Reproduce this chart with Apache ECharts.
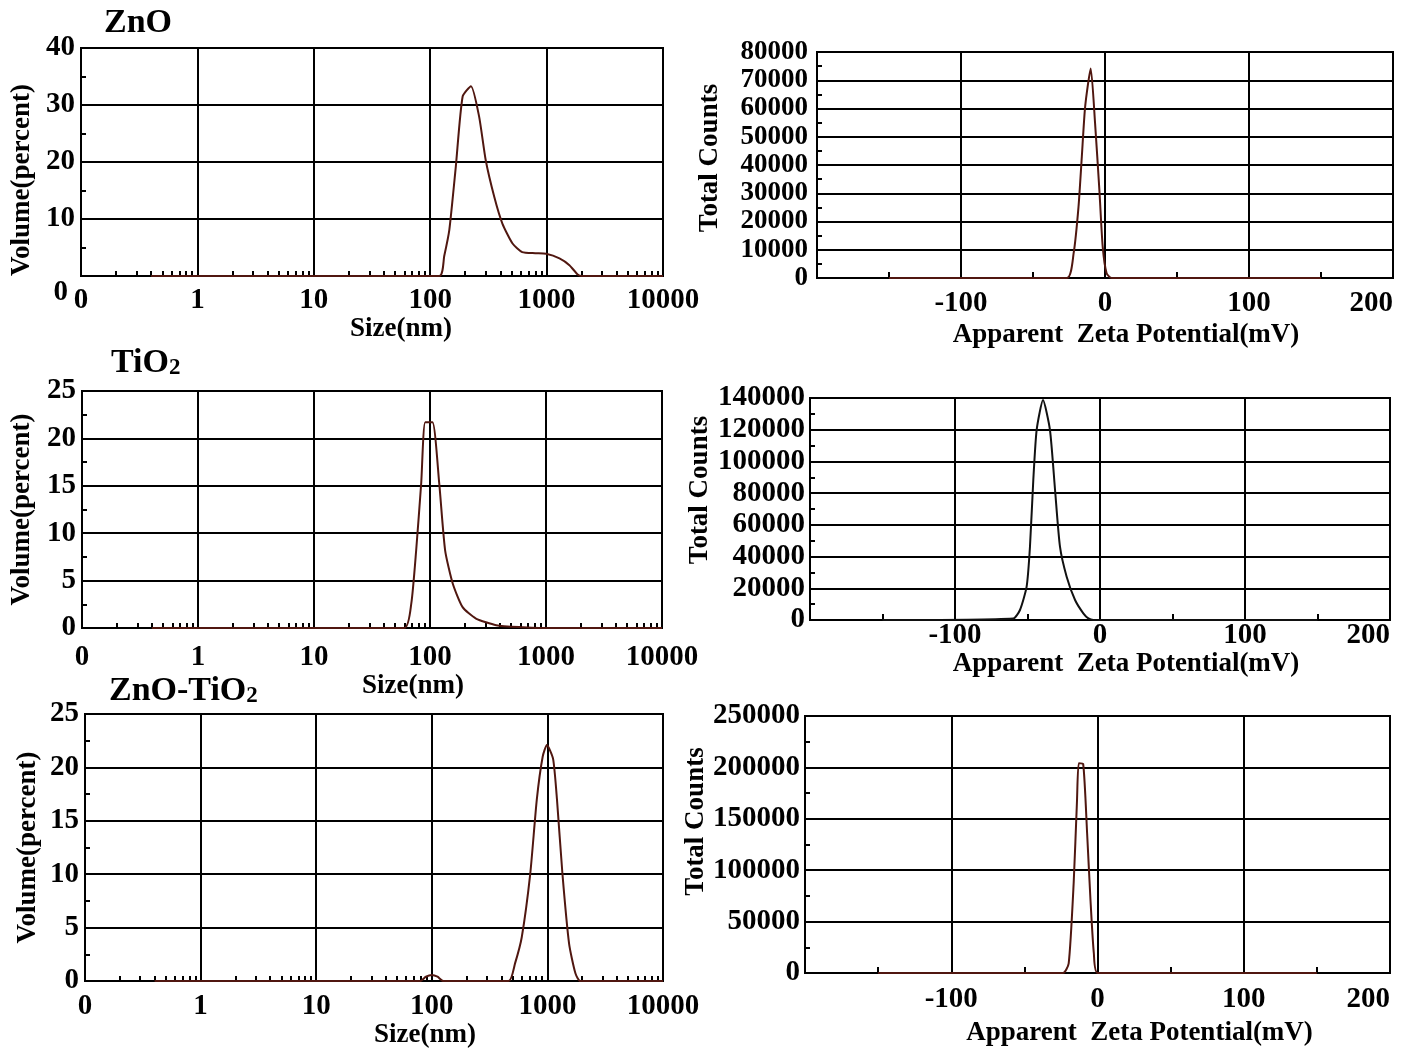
<!DOCTYPE html>
<html>
<head>
<meta charset="utf-8">
<script src="https://cdn.jsdelivr.net/npm/echarts@6/dist/echarts.min.js"></script>
<style>
  html, body { margin: 0; padding: 0; background: #fff; }
  #chart { width: 1404px; height: 1048px; }
</style>
</head>
<body>
<div id="chart"></div>
<script>
// size distributions (nm vs volume %)
const znoSizeNm = [0.4, 120, 132, 146, 166, 190, 224, 263, 300, 355, 417, 510, 617, 800, 990, 1290, 1570, 1860, 2000, 10000];
const znoVolume = [0, 0, 3.5, 8.1, 19.2, 31.5, 33.3, 28.0, 20.3, 13.9, 9.2, 5.7, 4.2, 4.0, 3.9, 3.1, 1.9, 0.2, 0, 0];

const tio2SizeNm = [0.4, 60, 69, 76, 84, 91, 105, 120, 135, 157, 191, 249, 372, 630, 870, 10000];
const tio2Volume = [0, 0, 2.6, 8.2, 15.3, 21.7, 21.7, 15.3, 8.2, 4.7, 2.2, 1.0, 0.3, 0.07, 0, 0];

const mixSizeNm = [0.4, 79, 89, 100, 112, 126, 462, 525, 600, 710, 810, 910, 990, 1120, 1210, 1350, 1540, 1750, 1930, 10000];
const mixVolume = [0, 0, 0.4, 0.56, 0.4, 0, 0, 1.65, 4.1, 10, 17, 21, 22.1, 20.8, 17, 10, 3.5, 0.7, 0, 0];

// zeta potential (mV vs total counts)
const znoZetaMv = [-150, -26.4, -21.8, -18.4, -16.1, -13.8, -9.9, -6.9, -3.9, -1.6, 1.1, 4.6, 150];
const znoCounts = [0, 0, 8700, 25200, 42900, 60600, 74200, 54800, 31100, 11100, 1700, 0, 0];

const tio2ZetaMv = [-150, -59.8, -55.2, -50.6, -48.3, -46, -43.7, -39.3, -34.5, -31, -27.6, -23, -17.2, -11.5, -8, -4.6, 150];
const tio2Counts = [0, 1000, 6300, 21000, 46200, 88300, 119800, 138700, 119800, 82000, 46200, 27300, 12600, 4200, 1000, 0, 0];

const mixZetaMv = [-150, -23.6, -19.7, -16.3, -14, -12.8, -9.8, -7.1, -4.8, -2.5, 0.2, 150];
const mixCounts = [0, 0, 9400, 87300, 168300, 204000, 203300, 135900, 71000, 19200, 0, 0];

const sizeDecades = [0.1, 1, 10, 100, 1000];
const minorSteps = [2, 3, 4, 5, 6, 7, 8, 9];

const font = "'Liberation Serif', 'Times New Roman', serif";
const ink = "#000";
const curveColor = "#501710";

const minorLogTicks = [];
sizeDecades.forEach((d) => minorSteps.forEach((k) => minorLogTicks.push(Math.log10(k * d))));

const lbl = (extra) => Object.assign({ color: ink, fontSize: 29, fontWeight: "bold", fontFamily: font }, extra);
const nameStyle = (padding) => ({ color: ink, fontSize: 27, fontWeight: "bold", fontFamily: font, padding: padding });
const line = { color: ink, width: 2 };

function sizeAxes(gridIndex, margin, nameGap, namePad) {
  return [
    {
      type: "value", gridIndex, min: -1, max: 4, interval: 1, position: "bottom",
      axisLine: { show: true, onZero: false, lineStyle: line },
      axisTick: { show: false },
      splitLine: { show: true, lineStyle: line },
      axisLabel: lbl({
        margin, showMinLabel: true, showMaxLabel: true,
        formatter: (v) => (v <= -1 ? "0" : String(Math.round(Math.pow(10, v)))),
      }),
      name: "Size(nm)", nameLocation: "middle", nameGap,
      nameTextStyle: nameStyle([0, 0, 0, namePad]),
    },
    {
      type: "value", gridIndex, min: -1, max: 4, position: "bottom",
      axisLine: { show: false },
      axisLabel: { show: false },
      splitLine: { show: false },
      axisTick: { show: true, inside: true, length: 5, customValues: minorLogTicks, lineStyle: line },
    },
  ];
}

function zetaAxis(gridIndex, margin, nameGap, namePad) {
  return {
    type: "value", gridIndex, min: -200, max: 200, interval: 100,
    axisLine: { show: true, onZero: false, lineStyle: line },
    axisTick: { show: false, inside: true },
    minorTick: { show: true, splitNumber: 2, length: 6, lineStyle: line },
    splitLine: { show: true, lineStyle: line },
    axisLabel: lbl({ margin, showMinLabel: false, showMaxLabel: true, alignMaxLabel: "right" }),
    name: "Apparent  Zeta Potential(mV)", nameLocation: "middle", nameGap,
    nameTextStyle: nameStyle([0, 0, 0, namePad]),
  };
}

function yAxisFor(gridIndex, max, interval, name, nameGap, namePad, margin, zeroShift, fontSize) {
  const fs = fontSize || 29;
  return {
    type: "value", gridIndex, min: 0, max, interval,
    axisLine: { show: true, onZero: false, lineStyle: line },
    axisTick: { show: true, inside: true, length: 5, lineStyle: line },
    minorTick: { show: true, splitNumber: 2, length: 5, lineStyle: line },
    splitLine: { show: true, lineStyle: line },
    axisLabel: lbl({
      margin, fontSize: fs, lineHeight: fs - 1, hideOverlap: false, showMinLabel: true, showMaxLabel: true,
      formatter: (v) => (zeroShift && v === 0 ? "{z|0}" : String(v)),
      rich: { z: { fontSize: fs, fontWeight: "bold", fontFamily: font, color: ink, padding: [34, 7, 0, 0] } },
    }),
    name, nameLocation: "middle", nameGap,
    nameTextStyle: nameStyle(namePad),
  };
}

const pairs = (xs, ys, fx) => xs.map((x, i) => [fx ? fx(x) : x, ys[i]]);

function curve(xi, yi, xs, ys, fx, color) {
  return {
    type: "line", xAxisIndex: xi, yAxisIndex: yi,
    data: pairs(xs, ys, fx),
    showSymbol: false, smooth: 0.2, z: 5,
    lineStyle: { color: color || curveColor, width: 2 },
  };
}

const gridBase = { show: true, borderColor: ink, borderWidth: 2, containLabel: false, outerBoundsMode: "none" };

const titleStyle = {
  color: ink, fontSize: 34, fontWeight: "bold", fontFamily: font,
  rich: {
    a: { color: ink, fontSize: 34, fontWeight: "bold", fontFamily: font },
    b: { color: ink, fontSize: 23, fontWeight: "bold", fontFamily: font, verticalAlign: "bottom", padding: [8, 0, 0, 0] },
  },
};

const option = {
  backgroundColor: "#fff",
  animation: false,
  title: [
    { text: "{a|ZnO}", left: 104, top: 6, padding: 0, textStyle: titleStyle },
    { text: "{a|TiO}{b|2}", left: 111, top: 346, padding: 0, textStyle: titleStyle },
    { text: "{a|ZnO-TiO}{b|2}", left: 109, top: 674, padding: 0, textStyle: titleStyle },
  ],
  grid: [
    Object.assign({ left: 81, top: 48, width: 582, height: 228 }, gridBase),
    Object.assign({ left: 817, top: 52, width: 576, height: 226 }, gridBase),
    Object.assign({ left: 82, top: 391, width: 580, height: 237 }, gridBase),
    Object.assign({ left: 810, top: 398, width: 580, height: 222 }, gridBase),
    Object.assign({ left: 85, top: 714, width: 578, height: 267 }, gridBase),
    Object.assign({ left: 805, top: 716, width: 585, height: 257 }, gridBase),
  ],
  xAxis: [
    ...sizeAxes(0, 10, 36, 58),
    zetaAxis(1, 11, 44, 42),
    ...sizeAxes(2, 15, 44, 82),
    zetaAxis(3, 1, 27, 52),
    ...sizeAxes(4, 11, 39, 102),
    zetaAxis(5, 12, 47, 84),
  ],
  yAxis: [
    yAxisFor(0, 40, 10, "Volume(percent)", 45, [0, 36, 0, 0], 6, true),
    yAxisFor(1, 80000, 10000, "Total Counts", 93, [0, 0, 0, 14], 9, false, 27),
    yAxisFor(2, 25, 5, "Volume(percent)", 46, [0, 0, 0, 0], 6, false),
    yAxisFor(3, 140000, 20000, "Total Counts", 96, [0, 0, 0, 38], 5, false),
    yAxisFor(4, 25, 5, "Volume(percent)", 43, [0, 0, 0, 0], 6, false),
    yAxisFor(5, 250000, 50000, "Total Counts", 91, [0, 0, 0, 46], 5, false),
  ],
  series: [
    curve(0, 0, znoSizeNm, znoVolume, Math.log10),
    curve(2, 1, znoZetaMv, znoCounts),
    curve(3, 2, tio2SizeNm, tio2Volume, Math.log10),
    curve(5, 3, tio2ZetaMv, tio2Counts, null, "#111"),
    curve(6, 4, mixSizeNm, mixVolume, Math.log10),
    curve(8, 5, mixZetaMv, mixCounts),
  ],
};

const myChart = echarts.init(document.getElementById("chart"));
myChart.setOption(option);
window.onresize = () => myChart.resize();
</script>
</body>
</html>
